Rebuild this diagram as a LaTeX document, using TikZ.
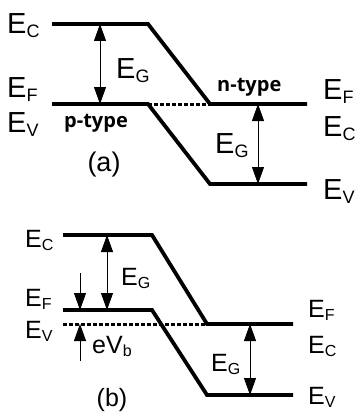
\documentclass[tikz,border=0pt]{standalone}
\usepackage{fontspec}
\setmainfont{Liberation Sans}
\newfontfamily\typefont{Open Sans}
\usetikzlibrary{arrows.meta}
\tikzset{>={Triangle[length=17pt,width=12pt]}}
\tikzset{
  band/.style={line width=3.8pt,line join=miter},
  fermi/.style={line width=3pt,dash pattern=on 4pt off 2pt},
  gap/.style={<->,line width=0.9pt},
  bias/.style={->,line width=0.9pt},
  lbl/.style={anchor=base west,inner sep=0pt},
  doping/.style={anchor=base west,inner sep=0pt,font=\typefont\bfseries\fontsize{20}{20}\selectfont},
}
% energy labels, panel (a) and panel (b) sizes
\newcommand{\EA}[1]{{\fontsize{29}{29}\selectfont E\raisebox{-4pt}{\fontsize{18}{18}\selectfont #1}}}
\newcommand{\EB}[1]{{\fontsize{25}{25}\selectfont E\raisebox{-3.5pt}{\fontsize{16}{16}\selectfont #1}}}

\begin{document}
\begin{tikzpicture}[x=1pt,y=-1pt]
\useasboundingbox (0,0) rectangle (357,412);

% panel (a)
\draw[band] (52,24) -- (148,24) -- (210,104) -- (307,104);
\draw[band] (52,104) -- (148,104) -- (210,184) -- (307,184);
\draw[fermi] (148,104) -- (210,104);
\coordinate (aGt) at (100,24);  \coordinate (aGb) at (100,104);
\coordinate (aHt) at (258,104); \coordinate (aHb) at (258,184);
\draw[gap] (aGt) -- (aGb);
\draw[gap] (aHt) -- (aHb);
\node[lbl] (aEG) at (116,78) {\EA{G}};
\node[lbl] (aEGr) at (215,153) {\EA{G}};
\node[lbl] (aECl) at (7,34) {\EA{C}};
\node[lbl] (aEFl) at (7,97) {\EA{F}};
\node[lbl] (aEVl) at (7,132) {\EA{V}};
\node[lbl] (aEFr) at (323,99) {\EA{F}};
\node[lbl] (aECr) at (323,136) {\EA{C}};
\node[lbl] (aEVr) at (323,199) {\EA{V}};
\node[doping] (ptype) at (64,127) {p-type};
\node[doping] (ntype) at (217,92) {n-type};
\node[anchor=base,inner sep=0pt,font=\fontsize{27}{27}\selectfont] (capa) at (104,171) {(a)};

% panel (b)
\draw[band] (63,235) -- (152,235) -- (207,324) -- (293,324);
\draw[band] (63,310) -- (152,310) -- (207,395) -- (293,395);
\draw[fermi] (63,324) -- (207,324);
\coordinate (bGt) at (107,235); \coordinate (bGb) at (107,310);
\coordinate (bHt) at (250,324); \coordinate (bHb) at (250,395);
\coordinate (bFt) at (80,273);  \coordinate (bFb) at (80,310);
\coordinate (bVt) at (80,324);  \coordinate (bVb) at (80,361);
\draw[gap] (bGt) -- (bGb);
\draw[gap] (bHt) -- (bHb);
\draw[bias] (bFt) -- (bFb);
\draw[bias] (bVb) -- (bVt);
\node[lbl] (bEG) at (121,285) {\EB{G}};
\node[lbl] (bEGr) at (211,371) {\EB{G}};
\node[lbl] (beVb) at (92,353) {\fontsize{25}{25}\selectfont eV\raisebox{-3.5pt}{\fontsize{16}{16}\selectfont b}};
\node[lbl] (bECl) at (25,247) {\EB{C}};
\node[lbl] (bEFl) at (25,306) {\EB{F}};
\node[lbl] (bEVl) at (25,338) {\EB{V}};
\node[lbl] (bEFr) at (308,317) {\EB{F}};
\node[lbl] (bECr) at (308,353) {\EB{C}};
\node[lbl] (bEVr) at (308,404) {\EB{V}};
\node[anchor=base,inner sep=0pt,font=\fontsize{25}{25}\selectfont] (capb) at (112,406) {(b)};
\end{tikzpicture}
\end{document}
